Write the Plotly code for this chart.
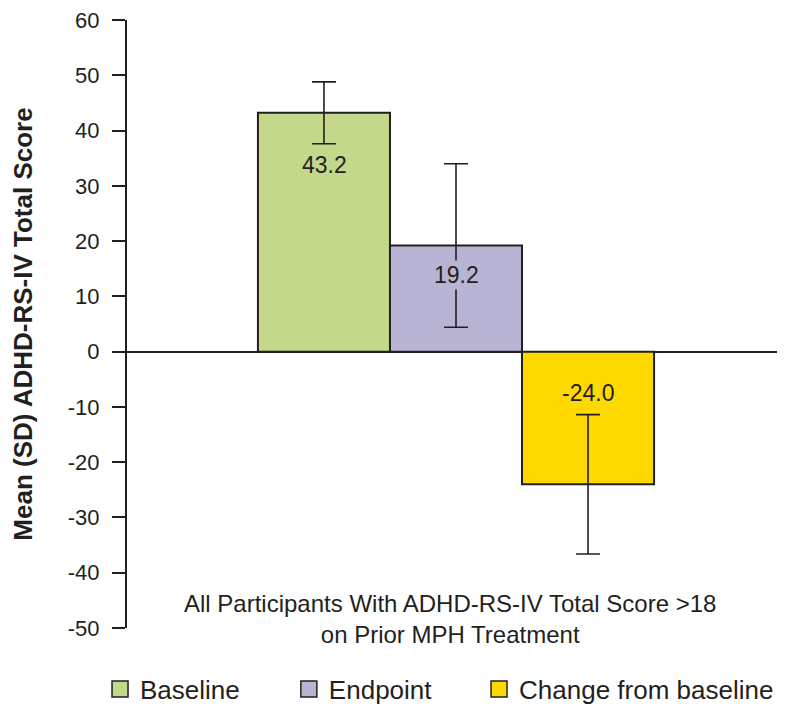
import plotly.graph_objects as go

categories = ["All Participants"]
series_names = ["Baseline", "Endpoint", "Change from baseline"]
means = [43.2, 19.2, -24.0]
sds = [5.6, 14.8, 12.6]
labels = ["43.2", "19.2", "-24.0"]
colors = ["#c3d88b", "#b8b5d4", "#fdd900"]
label_shift = [-52, -29, -41]
y_ticks = [60, 50, 40, 30, 20, 10, 0, -10, -20, -30, -40, -50]
y_tick_text = ["60", "50", "40", "30", "20", "10", "0", "-10", "-20", "-30", "-40", "-50"]

DARK = "#231f20"
FONT = "Liberation Sans, Arial, Helvetica, sans-serif"
legend_ids = ["legend", "legend2", "legend3"]
legend_x = [-0.041, 0.246, 0.535]

fig = go.Figure()
for name, m, s, c, lg in zip(series_names, means, sds, colors, legend_ids):
    fig.add_trace(go.Bar(
        x=categories, y=[m], name=name,
        marker=dict(color=c, line=dict(color=DARK, width=2)),
        error_y=dict(type="data", array=[s], visible=True, color=DARK, thickness=1.6, width=12),
        showlegend=False,
    ))
    fig.add_trace(go.Scatter(
        x=[None], y=[None], mode="markers", name=name, legend=lg,
        marker=dict(symbol="square", size=22, color=c, line=dict(color=DARK, width=1.5)),
        showlegend=True,
    ))

# value labels (with background so error bar is interrupted)
for i, (m, lab, c, sh) in enumerate(zip(means, labels, colors, label_shift)):
    fig.add_annotation(
        x=categories[0], xref="x", y=max(m, 0), yref="y",
        xshift=(i - 1) * 132,
        yshift=sh, text=lab, showarrow=False,
        font=dict(family=FONT, size=23, color=DARK),
        bgcolor=c, borderpad=1,
    )

fig.add_annotation(
    x=0.491, xref="paper", y=0.0148, yref="paper", yanchor="middle",
    text="All Participants With ADHD-RS-IV Total Score >18<br>on Prior MPH Treatment",
    showarrow=False, font=dict(family=FONT, size=24, color=DARK), align="center",
)

legend_common = dict(orientation="h", xanchor="left", y=-0.139, yanchor="bottom",
                     font=dict(family=FONT, size=26, color=DARK), itemsizing="trace",
                     bgcolor="rgba(0,0,0,0)")

fig.update_layout(
    width=777, height=706,
    margin=dict(l=119, r=0, t=10, b=86),
    plot_bgcolor="white", paper_bgcolor="white",
    barmode="group", bargap=0.398, bargroupgap=0,
    font=dict(family=FONT, color=DARK),
    legend=dict(x=legend_x[0], **legend_common),
    legend2=dict(x=legend_x[1], **legend_common),
    legend3=dict(x=legend_x[2], **legend_common),
    xaxis=dict(visible=False),
    yaxis=dict(
        range=[-50, 60], tickvals=y_ticks, ticktext=y_tick_text,
        ticks="outside", ticklen=13, tickwidth=2, ticklabelstandoff=8,
        ticklabeloverflow="allow",
        tickcolor=DARK, showline=True, linecolor=DARK, linewidth=2, showgrid=False,
        zeroline=True, zerolinecolor=DARK, zerolinewidth=2,
        tickfont=dict(family=FONT, size=22, color=DARK),
        title=dict(text="<b>Mean (SD) ADHD-RS-IV Total Score</b>",
                   font=dict(family=FONT, size=26, color=DARK), standoff=29),
    ),
)

fig.write_html("out.html")
